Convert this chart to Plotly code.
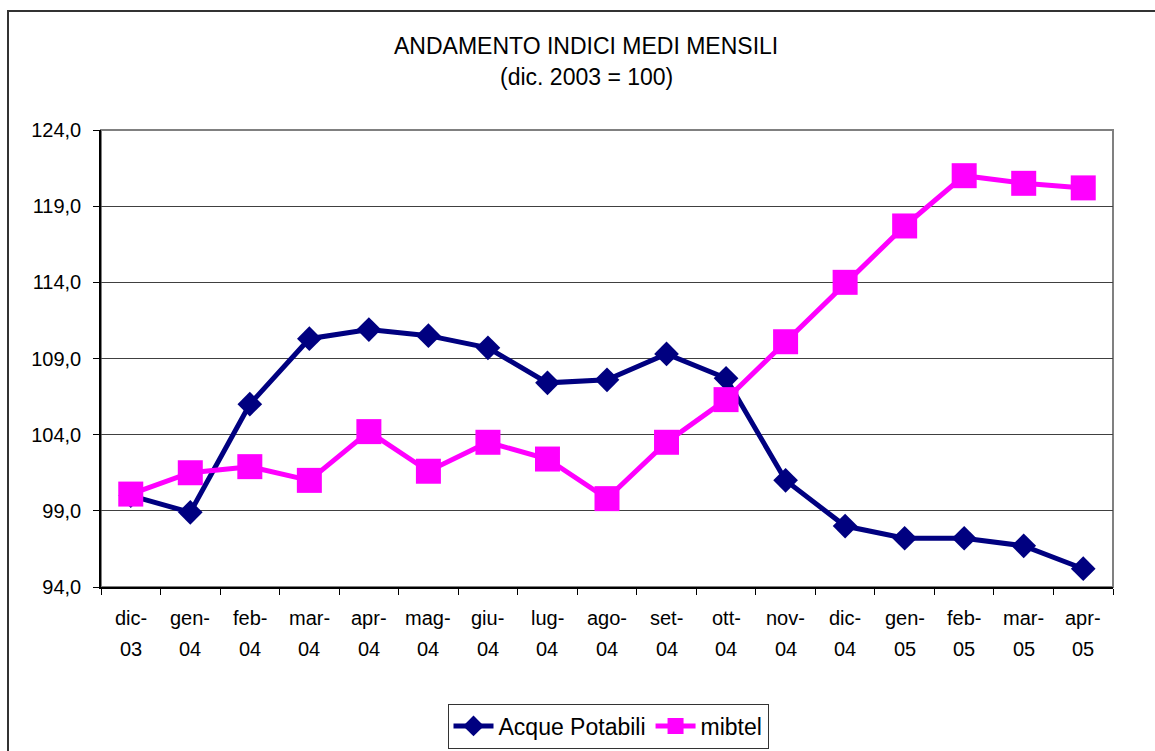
import plotly.graph_objects as go

categories = ["dic-03", "gen-04", "feb-04", "mar-04", "apr-04", "mag-04", "giu-04",
              "lug-04", "ago-04", "set-04", "ott-04", "nov-04", "dic-04", "gen-05",
              "feb-05", "mar-05", "apr-05"]
acque_potabili = [100.0, 98.9, 106.0, 110.3, 110.9, 110.5, 109.7, 107.4, 107.6,
                  109.3, 107.7, 101.0, 98.0, 97.2, 97.2, 96.7, 95.2]
mibtel = [100.1, 101.5, 101.9, 101.0, 104.2, 101.6, 103.5, 102.4, 99.8,
          103.5, 106.3, 110.1, 114.0, 117.7, 121.0, 120.5, 120.2]
y_ticks = [94, 99, 104, 109, 114, 119, 124]

FONT = "Liberation Sans, Arial, sans-serif"

fig = go.Figure()
fig.add_trace(go.Scatter(
    x=categories, y=acque_potabili, name="Acque Potabili", mode="lines+markers",
    line=dict(color="#000080", width=5),
    marker=dict(symbol="diamond", size=19, color="#000080"),
))
fig.add_trace(go.Scatter(
    x=categories, y=mibtel, name="mibtel", mode="lines+markers",
    line=dict(color="#FF00FF", width=5),
    marker=dict(symbol="square", size=25, color="#FF00FF"),
))

L, R, T, B = 101, 1113, 130, 587
W, H = R - L, B - T

def px(x):
    return (x - L) / W

def py(y):
    return (B - y) / H

annotations = [
    dict(text="ANDAMENTO INDICI MEDI MENSILI", xref="paper", yref="paper",
         x=px(586), y=py(46), xanchor="center", yanchor="middle",
         showarrow=False, font=dict(size=23, color="black")),
    dict(text="(dic. 2003 = 100)", xref="paper", yref="paper",
         x=px(586), y=py(77), xanchor="center", yanchor="middle",
         showarrow=False, font=dict(size=23, color="black")),
]
for c in categories:
    a, b = c.split("-")
    annotations.append(dict(text=a + "-", xref="x", yref="paper", x=c, y=py(618),
                            xanchor="center", yanchor="middle", showarrow=False,
                            font=dict(size=20, color="black")))
    annotations.append(dict(text=b, xref="x", yref="paper", x=c, y=py(649),
                            xanchor="center", yanchor="middle", showarrow=False,
                            font=dict(size=20, color="black")))

shapes = [
    # plot area border
    dict(type="rect", xref="paper", yref="paper", x0=0, y0=0, x1=1, y1=1,
         line=dict(color="#808080", width=2), layer="below"),
    # outer chart border
    dict(type="rect", xref="paper", yref="paper", x0=px(8), y0=py(11),
         x1=px(1175), y1=py(775), line=dict(color="#333333", width=2)),
]

fig.update_layout(
    width=1155, height=751,
    margin=dict(l=L, r=1155 - R, t=T, b=751 - B, pad=0, autoexpand=False),
    paper_bgcolor="white", plot_bgcolor="white",
    font=dict(family=FONT, size=20, color="black"),
    separators=",.",
    showlegend=True,
    legend=dict(orientation="h", x=px(608), y=py(726), xanchor="center", yanchor="middle",
                bordercolor="#333333", borderwidth=1, font=dict(size=23),
                bgcolor="white", itemwidth=40),
    annotations=annotations,
    shapes=shapes,
)
fig.update_xaxes(
    type="category", showticklabels=False, ticks="outside", tickson="boundaries",
    ticklen=6, tickcolor="black", showline=True, linecolor="black", linewidth=1.5,
    showgrid=False, zeroline=False, range=[-0.5, len(categories) - 0.5],
)
fig.update_yaxes(
    range=[94, 124], tickvals=y_ticks, tickformat=".1f", ticks="outside",
    ticklen=6, tickcolor="black", showline=True, linecolor="black", linewidth=1.5,
    showgrid=True, gridcolor="#404040", gridwidth=1, zeroline=False,
    tickfont=dict(size=20), ticklabelstandoff=8,
)

fig.write_html("out.html", config={"displayModeBar": False},
               post_script="document.body.style.margin='0';document.body.style.overflow='hidden';")
